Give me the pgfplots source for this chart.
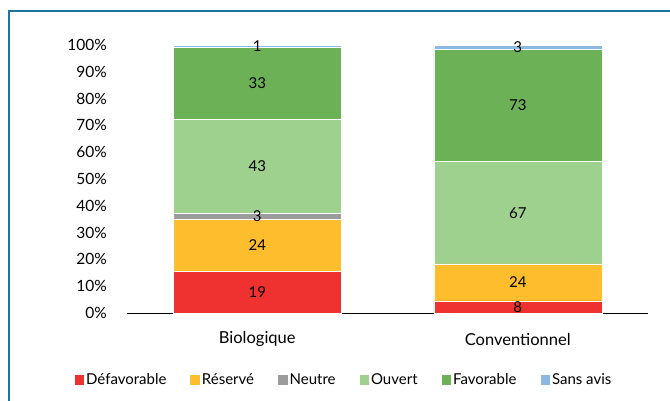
\documentclass[border=0pt]{standalone}
\usepackage{pgfplots}
\pgfplotsset{compat=1.18}
\usepackage{fontspec}
\setmainfont{Lato}
\definecolor{cdef}{HTML}{EF3130}
\definecolor{cres}{HTML}{FDBD2C}
\definecolor{cneu}{HTML}{9C9C9C}
\definecolor{couv}{HTML}{9ED08E}
\definecolor{cfav}{HTML}{6CB155}
\definecolor{csan}{HTML}{8CB9E2}
\definecolor{frame}{HTML}{1B75A0}
\begin{document}
\begin{tikzpicture}
\useasboundingbox (0,0) rectangle (670pt,400pt);
\draw[frame, line width=2pt] (9pt,-5pt) -- (9pt,389pt) -- (680pt,389pt);
\begin{axis}[
    at={(127pt,87pt)}, anchor=south west,
    scale only axis, width=521pt, height=268pt,
    ybar stacked, bar width=168pt,
    xmin=-0.5, xmax=1.5, ymin=0, ymax=100,
    xtick={0,1}, xticklabels={Biologique,Conventionnel},
    ytick={0,10,...,100},
    yticklabels={0\%,10\%,20\%,30\%,40\%,50\%,60\%,70\%,80\%,90\%,100\%},
    axis x line*=bottom, axis y line*=left,
    y axis line style={draw=none},
    x axis line style={black, line width=0.9pt},
    tick style={draw=none},
    yticklabel style={anchor=east, inner sep=0pt, xshift=-20pt, font=\fontsize{15.5}{16}\selectfont},
    xticklabel style={anchor=center, inner sep=0pt, yshift=-26pt, font=\fontsize{16.5}{17}\selectfont},
    clip=false,
    point meta=explicit symbolic,
    nodes near coords,
    every node near coord/.style={anchor=center, text=black, inner sep=0pt, font=\fontsize{15}{16}\selectfont},
    every axis plot/.append style={draw=white, line width=0.5pt},
    legend columns=6,
    legend style={at={(0.4165,-0.25)}, anchor=center, draw=none, fill=none,
        font=\fontsize{15}{16}\selectfont,
        /tikz/every even column/.append style={column sep=22pt}},
    legend image code/.code={\fill[#1,draw=none] (0pt,-4.5pt) rectangle (9.5pt,5pt);},
]
\addplot[fill=cdef] coordinates {(0,15.447) [19] (1,4.571) [8]};
\addplot[fill=cres] coordinates {(0,19.512) [24] (1,13.714) [24]};
\addplot[fill=cneu] coordinates {(0,2.439) [3] (1,0) [{}]};
\addplot[fill=couv] coordinates {(0,34.959) [43] (1,38.286) [67]};
\addplot[fill=cfav] coordinates {(0,26.829) [33] (1,41.714) [73]};
\addplot[fill=csan] coordinates {(0,0.813) [1] (1,1.714) [3]};
\legend{Défavorable,Réservé,Neutre,Ouvert,Favorable,Sans avis}
\end{axis}
\end{tikzpicture}
\end{document}
